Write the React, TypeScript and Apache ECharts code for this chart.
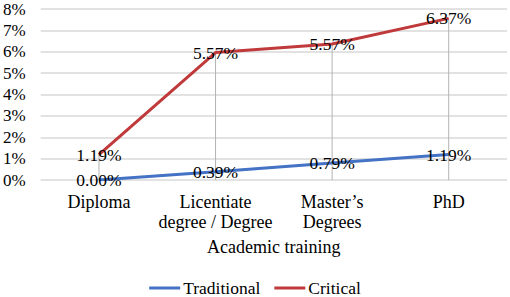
import React, { useEffect, useRef } from "react";
import * as echarts from "echarts";

const categories = ["Diploma", "Licentiate\ndegree / Degree", "Master’s\nDegrees", "PhD"];
const traditional = [0.0, 0.39, 0.79, 1.19];
const critical = [1.19, 5.57, 5.57, 6.37];
const yTicks = [0, 1, 2, 3, 4, 5, 6, 7, 8];

const FONT = "Liberation Serif";

export default function App() {
  const ref = useRef<HTMLDivElement>(null);
  useEffect(() => {
    document.body.style.margin = "0";
    if (!ref.current) return;
    const chart = echarts.init(ref.current, null, { renderer: "svg" });
    const totals = traditional.map((v, i) => +(v + critical[i]).toFixed(2));
    const labelStyle = {
      show: true,
      position: "inside" as const,
      fontFamily: FONT,
      fontSize: 17.5,
      color: "#000",
    };
    chart.setOption({
      animation: false,
      textStyle: { fontFamily: FONT, fontSize: 17 },
      grid: { left: 40, right: 3, top: 9, bottom: 117 },
      legend: {
        data: ["Traditional", "Critical"],
        bottom: -5,
        left: "center",
        icon: "rect",
        itemWidth: 31,
        itemHeight: 3,
        itemGap: 14,
        itemStyle: { opacity: 1 },
        textStyle: { fontFamily: FONT, fontSize: 17.5, color: "#000", padding: [0, 0, 0, -2] },
      },
      xAxis: {
        type: "category",
        data: categories,
        name: "Academic training",
        nameLocation: "middle",
        nameGap: 57,
        nameTextStyle: { fontFamily: FONT, fontSize: 18, color: "#000", lineHeight: 20, verticalAlign: "top" },
        axisLine: { show: false },
        axisTick: { show: false },
        axisLabel: {
          fontFamily: FONT,
          fontSize: 18,
          color: "#000",
          margin: 12,
          interval: 0,
          formatter: (v: string) => {
            const lines = v.split("\n");
            return lines.map((l) => `{a|${l}}`).join("\n") + (lines.length === 1 ? "\n{a| }" : "");
          },
          rich: {
            a: { fontFamily: FONT, fontSize: 18, color: "#000", lineHeight: 20 },
          },
        },
      },
      yAxis: {
        type: "value",
        min: yTicks[0],
        max: yTicks[yTicks.length - 1],
        interval: 1,
        axisLabel: {
          formatter: (v: number) => `${v}%`,
          fontFamily: FONT,
          fontSize: 17,
          color: "#000",
          margin: 15,
        },
        axisLine: { show: false },
        axisTick: { show: false },
        splitLine: { lineStyle: { color: "#d9d9d9", width: 1.5 } },
      },
      series: [
        {
          name: "Drop",
          type: "bar",
          data: totals,
          barWidth: 1,
          itemStyle: { color: "#b3b3b3" },
          z: 1,
          silent: true,
        },
        {
          name: "Traditional",
          type: "line",
          stack: "total",
          data: traditional,
          symbol: "circle",
          symbolSize: 0,
          showSymbol: true,
          lineStyle: { color: "#4472C4", width: 3 },
          itemStyle: { color: "#4472C4" },
          label: { ...labelStyle, formatter: (p: any) => `${Number(p.value).toFixed(2)}%` },
          z: 3,
        },
        {
          name: "Critical",
          type: "line",
          stack: "total",
          data: critical,
          symbol: "circle",
          symbolSize: 0,
          showSymbol: true,
          lineStyle: { color: "#C0393B", width: 3 },
          itemStyle: { color: "#C0393B" },
          label: { ...labelStyle, formatter: (p: any) => `${Number(p.value).toFixed(2)}%` },
          z: 3,
        },
      ],
    });
    return () => chart.dispose();
  }, []);
  return <div ref={ref} style={{ width: 510, height: 297 }} />;
}
